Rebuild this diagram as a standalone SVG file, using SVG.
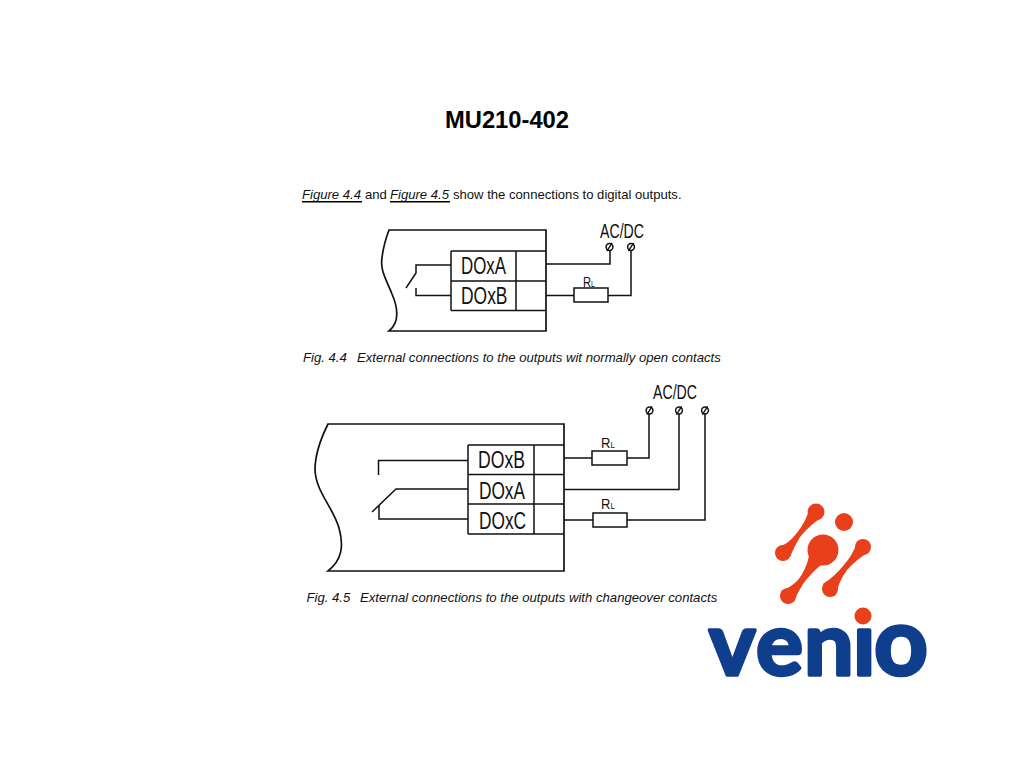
<svg xmlns="http://www.w3.org/2000/svg" width="1024" height="768" viewBox="0 0 1024 768">
<defs>
<style>
.t{font-family:"Liberation Sans",Arial,sans-serif;fill:#111}
.i{font-style:italic;font-size:13.15px}
.b{font-size:13.1px}
.f{font-style:italic;font-size:13.1px}
.n{font-size:23px;fill:#111;font-family:"Liberation Sans",Arial,sans-serif}
.ac{font-size:21px;fill:#111;font-family:"Liberation Sans",Arial,sans-serif}
.r{font-size:14px;fill:#111;font-family:"Liberation Sans",Arial,sans-serif}
.l{font-size:8.5px}
.w{fill:none;stroke:#111;stroke-width:1.5}
.h{fill:none;stroke:#111;stroke-width:1.7}
.o{fill:#e8401a}
</style>
<g id="term"><circle r="3.4" fill="none" stroke="#111" stroke-width="1.5"/><path d="M-2.600 4.200L2.600-4.200" stroke="#111" stroke-width="1.300"/></g>
<clipPath id="stem"><rect x="690" y="610" width="161" height="76"/><rect x="851" y="626" width="22" height="60"/><rect x="873" y="610" width="70" height="76"/></clipPath>
</defs>
<rect width="1024" height="768" fill="#fff"/>
<text x="445" y="128" font-family="Liberation Sans,Arial,sans-serif" font-size="23.7" font-weight="700" fill="#000" textLength="124" lengthAdjust="spacingAndGlyphs">MU210-402</text>
<text class="t b" y="199"><tspan class="f" x="302">Figure 4.4</tspan><tspan x="365">and</tspan><tspan class="f" x="390">Figure 4.5</tspan><tspan x="453">show the connections to digital outputs.</tspan></text>
<path d="M302 201.700H362M390 201.700H450" stroke="#000" stroke-width="1.500"/>

<g id="fig44">
<g id="enclosure44"><path class="h" d="M389 230H546V331H389C400 322 398 308 392 294C386 279 380 270 382 258C383 248 386 238 389 230Z"/></g>
<g id="terminals44"><path class="w" d="M451 251H546M451 281H546M451 310.500H546M451 251V310.500M516 251V310.500"/>
<text class="n" x="461" y="274" textLength="45" lengthAdjust="spacingAndGlyphs">DOxA</text>
<text class="n" x="461" y="304" textLength="46.500" lengthAdjust="spacingAndGlyphs">DOxB</text></g>
<g id="load44"><rect class="w" x="574" y="288" width="34" height="14"/><text class="r" transform="translate(583 286.500) scale(.8 1)">R<tspan class="l">L</tspan></text></g>
<g id="supply44"><text class="ac" x="600" y="238" textLength="44" lengthAdjust="spacingAndGlyphs">AC/DC</text><use href="#term" x="609.500" y="247"/><use href="#term" x="631" y="247"/></g>
</g>

<g id="fig45">
<g id="enclosure45"><path class="h" d="M328 424H564V571H328C342 560 344 546 339 528C333 507 316 492 315 470C315 452 322 436 328 424Z"/></g>
<g id="terminals45"><path class="w" d="M468 445H564M468 474.500H564M468 504H564M468 534H564M468 445V534M534 445V534"/>
<text class="n" x="478" y="468" textLength="47" lengthAdjust="spacingAndGlyphs">DOxB</text>
<text class="n" x="479" y="498.500" textLength="46" lengthAdjust="spacingAndGlyphs">DOxA</text>
<text class="n" x="479" y="528.500" textLength="47" lengthAdjust="spacingAndGlyphs">DOxC</text></g>
<g id="load45a"><rect class="w" x="592" y="451" width="35" height="14"/><text class="r" transform="translate(601 447.500) scale(.93 1)">R<tspan class="l">L</tspan></text></g>
<g id="load45b"><rect class="w" x="593" y="513" width="34" height="14"/><text class="r" transform="translate(601 508.500) scale(.93 1)">R<tspan class="l">L</tspan></text></g>
<g id="supply45"><text class="ac" x="653" y="398.500" textLength="44" lengthAdjust="spacingAndGlyphs">AC/DC</text><use href="#term" x="649.500" y="410.500"/><use href="#term" x="679" y="410.500"/><use href="#term" x="705" y="410.500"/></g>
</g>

<g id="connectors">
<path class="w" d="M451 265H416V273L406 288M451 295.500H416V288"/>
<path class="w" d="M546 264H610V250M546 295.500H574M608 295.500H631V250"/>
<path class="w" d="M468 460.500H378.500V475M468 489H396L372 512M468 519H379V505"/>
<path class="w" d="M564 458H592M627 458H649V414M564 489.500H679V414M564 520H593M627 520H705V414"/>
</g>

<text class="t i" y="361.500"><tspan x="303">Fig. 4.4</tspan><tspan x="357">External connections to the outputs wit normally open contacts</tspan></text>
<text class="t i" y="601.500"><tspan x="306.500">Fig. 4.5</tspan><tspan x="360">External connections to the outputs with changeover contacts</tspan></text>

<g id="logo">
<path class="o" d="M810 507Q806 522 796 534Q789 543 781 546L790 557Q794 547 800 537Q810 525 822 517Z"/>
<path class="o" d="M809 556Q806 570 798 580Q790 588 781 591L794 602Q797 593 803 584Q812 572 821 565Z"/>
<path class="o" d="M857 542Q853 555 843 566Q834 577 823 584L835 596Q839 581 847 570Q858 558 869 552Z"/>
<circle class="o" cx="816" cy="512" r="8.500"/><circle class="o" cx="783" cy="553" r="8"/><circle class="o" cx="844" cy="522" r="9"/><circle class="o" cx="823" cy="550" r="15.500"/><circle class="o" cx="863" cy="547" r="8"/><circle class="o" cx="788" cy="596" r="8"/><circle class="o" cx="830" cy="589" r="8"/>
<g clip-path="url(#stem)"><text y="675" font-family="Lato,'Noto Sans',sans-serif" font-weight="700" font-size="88" fill="#0f3f8c" stroke="#0f3f8c" stroke-width="3.500" stroke-linejoin="round"><tspan x="709 756 804 853">veni</tspan><tspan x="874" font-size="94">o</tspan></text></g>
<circle class="o" cx="863" cy="616" r="8.500"/>
</g>
</svg>
